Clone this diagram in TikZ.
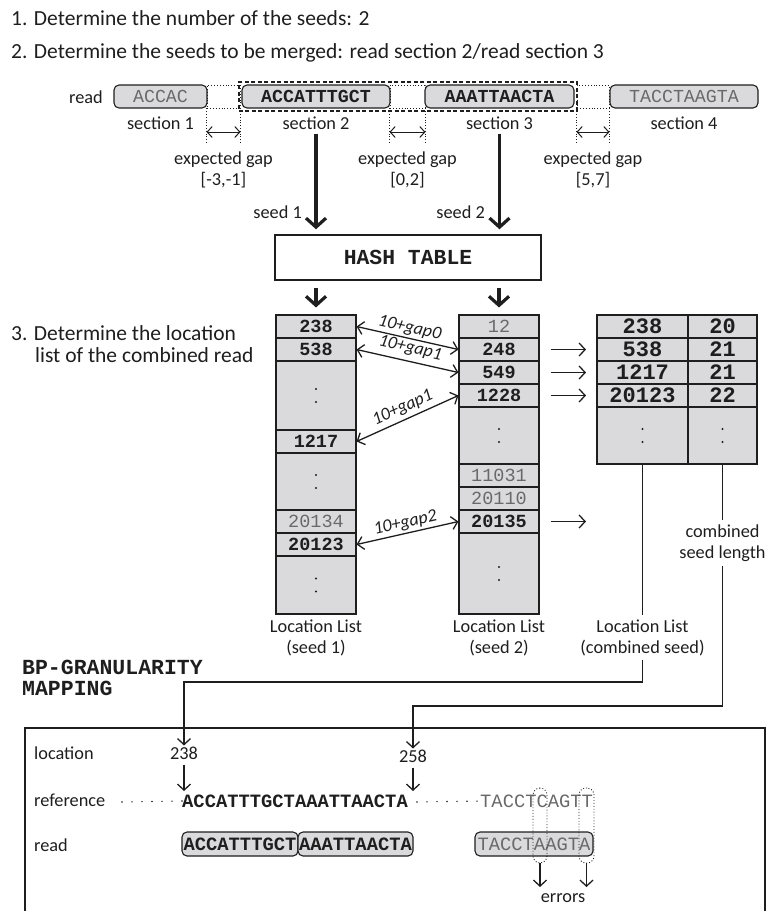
\documentclass[tikz,border=0pt]{standalone}
\usepackage{fontspec}
\setmainfont{Carlito}
\setmonofont{Liberation Mono}
\usetikzlibrary{arrows.meta,calc,fit}
\definecolor{ink}{RGB}{30,30,30}
\definecolor{cellfill}{RGB}{218,218,220}
\definecolor{greytext}{RGB}{105,105,105}
\begin{document}
\begin{tikzpicture}[x=1pt,y=-1pt,
  lab/.style={font=\fontsize{18.3pt}{21pt}\selectfont, text=ink, inner sep=0pt},
  ttl/.style={font=\fontsize{21.5pt}{22pt}\selectfont, text=ink, inner sep=0pt},
  rbox/.style={draw=ink, line width=1.1pt, fill=cellfill, rounded corners=5pt, minimum height=23pt, inner sep=0pt, text=ink, font=\ttfamily\bfseries\fontsize{18.3pt}{18.3pt}\selectfont},
  graytxt/.style={font=\ttfamily\mdseries\fontsize{18.3pt}{18.3pt}\selectfont, text=greytext},
  gapbox/.style={draw=ink, dotted, line width=0.9pt, minimum height=23pt, inner sep=0pt},
  seldash/.style={draw=ink, line width=2pt, dash pattern=on 4pt off 2.5pt, inner sep=2.5pt},
  vdot/.style={draw=ink, dotted, line width=0.8pt},
  cell/.style={draw=ink, line width=1.1pt, fill=cellfill, inner sep=0pt, text=ink, font=\ttfamily\bfseries\fontsize{18.5pt}{18.5pt}\selectfont},
  lcell/.style={cell, minimum width=80pt},
  gcell/.style={font=\ttfamily\mdseries\fontsize{18.5pt}{18.5pt}\selectfont, text=greytext},
  rcella/.style={cell, minimum width=91pt, font=\ttfamily\bfseries\fontsize{22pt}{22pt}\selectfont},
  rcellb/.style={cell, minimum width=69pt, font=\ttfamily\bfseries\fontsize{22pt}{22pt}\selectfont},
  arr/.style={draw=ink, line width=1.3pt, -{Straight Barb[length=6pt,width=13pt]}},
  dbl/.style={draw=ink, line width=1.3pt, {Straight Barb[length=6pt,width=13pt]}-{Straight Barb[length=6pt,width=13pt]}},
  sdbl/.style={draw=ink, line width=1pt, {Straight Barb[length=5pt,width=11pt]}-{Straight Barb[length=5pt,width=11pt]}},
  seedarr/.style={draw=ink, line width=3.2pt, -{Straight Barb[length=9pt,width=20pt]}},
  glab/.style={font=\itshape\fontsize{18pt}{18pt}\selectfont, text=ink, inner sep=1.5pt},
  ln/.style={draw=ink, line width=1.3pt},
  bbox/.style={draw=ink, line width=1.1pt, fill=cellfill, rounded corners=5pt, minimum height=24pt, inner sep=0pt, text=ink, font=\ttfamily\bfseries\fontsize{18.8pt}{18.8pt}\selectfont},
  errbox/.style={draw=ink, dotted, line width=0.9pt, rounded corners=7pt, inner sep=0pt}
]
\useasboundingbox (0,0) rectangle (768,911);

% step texts
\node[ttl, anchor=west] (t1) at (11,18) {1. Determine the number of the seeds: 2};
\node[ttl, anchor=west] (t2) at (11,53) {2. Determine the seeds to be merged: read section 2/read section 3};

% read row
\node[lab, anchor=east] (readlab) at (103,97) {read};
\node[rbox, graytxt, minimum width=93pt] (S1) at (160.5,96.5) {ACCAC};
\node[gapbox, minimum width=33pt] (G1) at (223.5,96.5) {};
\node[rbox, minimum width=148pt] (S2) at (316,96.5) {ACCATTTGCT};
\node[gapbox, minimum width=35pt] (G2) at (407.5,96.5) {};
\node[rbox, minimum width=149pt] (S3) at (499.5,96.5) {AAATTAACTA};
\node[gapbox, minimum width=32pt] (G3) at (593,96.5) {};
\node[rbox, graytxt, minimum width=148pt] (S4) at (684,96.5) {TACCTAAGTA};
\node[seldash, fit=(S2)(S3)] (sel) {};

\node[lab] (sl1) at (160.5,123) {section 1};
\node[lab] (sl2) at (316,123) {section 2};
\node[lab] (sl3) at (499.5,123) {section 3};
\node[lab] (sl4) at (684,123) {section 4};

\foreach \g in {G1,G2,G3} {
  \draw[vdot] (\g.south west) -- ++(0,35);
  \draw[vdot] (\g.south east) -- ++(0,35);
  \draw[sdbl] (\g.south west |- 0,132) -- (\g.south east |- 0,132);
}
\node[lab, align=center] (eg1) at (223.5,170) {expected gap\\{[-3,-1]}};
\node[lab, align=center] (eg2) at (407.5,170) {expected gap\\{[0,2]}};
\node[lab, align=center] (eg3) at (593,170) {expected gap\\{[5,7]}};

% hash table
\node[draw=ink, line width=1.5pt, minimum width=266pt, minimum height=45pt, inner sep=0pt,
      font=\ttfamily\bfseries\fontsize{21.4pt}{21.4pt}\selectfont, text=ink] (HT) at (408,257.5) {HASH TABLE};
\draw[seedarr, shorten >=5pt] (S2.south) ++(0,25) -- (S2.south |- HT.north);
\draw[seedarr, shorten >=5pt] (S3.south) ++(0,25) -- (S3.south |- HT.north);
\node[lab, anchor=east] (sd1) at (302,212) {seed 1};
\node[lab, anchor=east] (sd2) at (485,212) {seed 2};

% step 3 text
\node[ttl, anchor=west, align=left, font=\fontsize{21.5pt}{22pt}\selectfont] (t3) at (11,344)
  {3. Determine the location\\\hspace*{24pt}list of the combined read};

% left table (seed 1)
\node[lcell, minimum height=23pt] (L1) at (316,326.5) {238};
\node[lcell, minimum height=23pt] (L2) at (316,349.5) {538};
\node[lcell, minimum height=69pt] (L3) at (316,395.5) {};
\node[lcell, minimum height=23pt] (L4) at (316,441.5) {1217};
\node[lcell, minimum height=57pt] (L5) at (316,481.5) {};
\node[lcell, gcell, minimum height=23pt] (L6) at (316,521.5) {20134};
\node[lcell, minimum height=23pt] (L7) at (316,544.5) {20123};
\node[lcell, minimum height=58pt] (L8) at (316,585) {};

% middle table (seed 2)
\node[lcell, gcell, minimum height=23pt] (M1) at (499,326.5) {12};
\node[lcell, minimum height=23pt] (M2) at (499,349.5) {248};
\node[lcell, minimum height=23pt] (M3) at (499,372.5) {549};
\node[lcell, minimum height=23pt] (M4) at (499,395.5) {1228};
\node[lcell, minimum height=57pt] (M5) at (499,435.5) {};
\node[lcell, gcell, minimum height=23pt] (M6) at (499,475.5) {11031};
\node[lcell, gcell, minimum height=23pt] (M7) at (499,498.5) {20110};
\node[lcell, minimum height=23pt] (M8) at (499,521.5) {20135};
\node[lcell, minimum height=81pt] (M9) at (499,573.5) {};

% right table (combined)
\node[rcella, minimum height=23pt] (R1a) at (642.5,326.5) {238};
\node[rcellb, minimum height=23pt] (R1b) at (722.5,326.5) {20};
\node[rcella, minimum height=23pt] (R2a) at (642.5,349.5) {538};
\node[rcellb, minimum height=23pt] (R2b) at (722.5,349.5) {21};
\node[rcella, minimum height=23pt] (R3a) at (642.5,372.5) {1217};
\node[rcellb, minimum height=23pt] (R3b) at (722.5,372.5) {21};
\node[rcella, minimum height=23pt] (R4a) at (642.5,395.5) {20123};
\node[rcellb, minimum height=23pt] (R4b) at (722.5,395.5) {22};
\node[rcella, minimum height=57pt] (R5a) at (642.5,435.5) {};
\node[rcellb, minimum height=57pt] (R5b) at (722.5,435.5) {};

\foreach \n in {L3,L5,L8,M5,M9,R5a,R5b} {
  \fill[ink] (\n.center) ++(0,-6.5) circle (1.2pt);
  \fill[ink] (\n.center) ++(0,6.5) circle (1.2pt);
}

% hash table to lists
\draw[seedarr, shorten <=7pt, shorten >=7pt] (HT.south -| L1.north) -- (L1.north);
\draw[seedarr, shorten <=7pt, shorten >=7pt] (HT.south -| M1.north) -- (M1.north);

% gap arrows
\draw[dbl] (L1.east) -- node[glab, above, sloped] {10+gap0} (M2.west);
\draw[dbl] (L2.east) -- node[glab, above=3pt, sloped] {10+gap1} (M3.west);
\draw[dbl] (L4.east) -- node[glab, above=2pt, sloped] {10+gap1} (M4.west);
\draw[dbl] (L7.east) -- node[glab, above, sloped] {10+gap2} (M8.west);

% to combined list
\coordinate (ra1) at (586,349.5);
\coordinate (ra2) at (586,372.5);
\coordinate (ra3) at (586,395.5);
\coordinate (ra4) at (586,521.5);
\draw[arr, shorten <=11pt] (M2.east) -- (ra1);
\draw[arr, shorten <=11pt] (M3.east) -- (ra2);
\draw[arr, shorten <=11pt] (M4.east) -- (ra3);
\draw[arr, shorten <=11pt] (M8.east) -- (ra4);

% list labels
\node[lab, align=center] (LL1) at (316,637.5) {Location List\\(seed 1)};
\node[lab, align=center] (LL2) at (499,637.5) {Location List\\(seed 2)};
\node[lab, align=center] (LLc) at (642.5,637.5) {Location List\\(combined seed)};
\node[lab, align=center] (CSL) at (722.5,543) {combined\\seed length};

% BP granularity
\node[anchor=west, align=left, inner sep=0pt, text=ink,
      font=\ttfamily\bfseries\fontsize{21.5pt}{21pt}\selectfont] (bp) at (22,677.5) {BP-GRANULARITY\\MAPPING};

% mapping box
\draw[ink, line width=1.8pt] (25,728) rectangle (765,930);

\node[lab, anchor=west] (locl) at (34,753) {location};
\node[lab] (loc238) at (184,753) {238};
\node[lab] (loc258) at (413,756) {258};
\node[lab, anchor=west] (refl) at (34,800) {reference};
\node[lab, anchor=west] (readl) at (34,845) {read};

\coordinate (bend1) at (184,682);
\coordinate (bend2) at (413,706);
\draw[ln, shorten >=4pt] (R5a.south) -- (LLc.north);
\draw[ln, shorten >=4pt] (R5b.south) -- (CSL.north);
\draw[arr, shorten <=4pt, shorten >=1pt] (LLc.south) |- (bend1) -- (loc238.north);
\draw[arr, shorten <=4pt, shorten >=1pt] (CSL.south) |- (bend2) -- (loc258.north);

\node[anchor=west, inner sep=0pt, text=ink, font=\ttfamily\bfseries\fontsize{18.8pt}{18.8pt}\selectfont] (refA) at (182,801) {ACCATTTGCTAAATTAACTA};
\node[anchor=west, inner sep=0pt, text=greytext, font=\ttfamily\mdseries\fontsize{18.8pt}{18.8pt}\selectfont] (refB) at (480,801) {TACCTCAGTT};
\draw[ink, line width=1.6pt, line cap=round, dash pattern=on 0pt off 10pt] (122,802) -- (refA.west);
\draw[ink, line width=1.6pt, line cap=round, dash pattern=on 0pt off 10pt] (417,802) -- (refB.west);

\draw[arr, shorten <=5pt] (loc238.south) -- (loc238.south |- 0,791);
\draw[arr, shorten <=5pt] (loc258.south) -- (loc258.south |- 0,791);

\node[bbox, minimum width=116pt] (B1) at (240,844) {ACCATTTGCT};
\node[bbox, minimum width=115pt] (B2) at (355.5,844) {AAATTAACTA};
\node[bbox, minimum width=118pt, font=\ttfamily\mdseries\fontsize{18.8pt}{18.8pt}\selectfont, text=greytext] (B3) at (534,844) {TACCTAAGTA};

\node[errbox, minimum width=14pt, minimum height=75pt] (E1) at (540,825.5) {};
\node[errbox, minimum width=15pt, minimum height=75pt] (E2) at (586.5,825.5) {};
\node[lab] (err) at (563,898) {errors};
\draw[arr] (E1.south) -- (E1.south |- 0,887);
\draw[arr] (E2.south) -- (E2.south |- 0,887);
\end{tikzpicture}
\end{document}
